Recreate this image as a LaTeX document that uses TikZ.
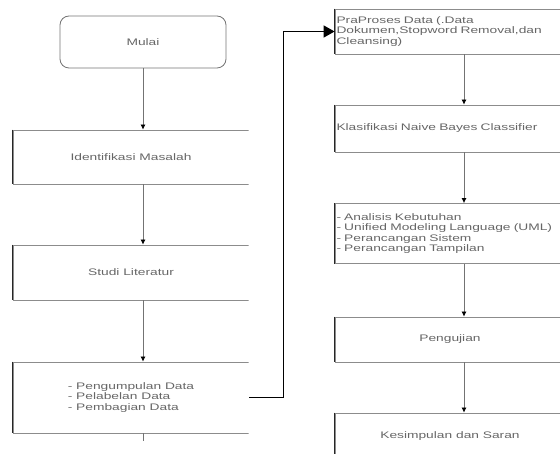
\documentclass[tikz,border=0pt]{standalone}
\usepackage{fontspec}
\setmainfont{Liberation Sans}[FakeStretch=1.45]
\usetikzlibrary{arrows.meta}
\tikzset{
  stepbox/.style={draw=black!45,line width=0.8pt,text=black!60,inner sep=1.5pt,
    font=\fontsize{9.5}{10.5}\selectfont},
  flow/.style={draw=black!55,line width=0.8pt,-{Latex[length=5pt,width=5pt,black]}},
  link/.style={draw=black,line width=1.5pt,-{Triangle[length=11pt,width=12pt]}}
}
\begin{document}
\begin{tikzpicture}[x=1pt,y=-1pt]
   \useasboundingbox (0,0) rectangle (560,454);
   \clip (0,0) rectangle (560,454);
   \node [stepbox,draw=black!55,rounded corners=9pt,minimum width=166pt,minimum height=52pt] (mulai) at (143,42) {Mulai};
   \begin{scope}
     \clip (0,0) rectangle (248.5,454);
     \node [stepbox,minimum width=236pt,minimum height=54pt] (idm) at (131,157) {Identifikasi Masalah};
     \node [stepbox,minimum width=236pt,minimum height=55pt] (stl) at (131,272.5) {Studi Literatur};
     \node [stepbox,minimum width=236pt,minimum height=71pt,align=left] (pd) at (131,397.5)
       {- Pengumpulan Data\\- Pelabelan Data\\- Pembagian Data};
   \end{scope}
   \node [stepbox,minimum width=230pt,minimum height=45pt,text width=227pt,align=left] (pp) at (450,31.5)
     {PraProses Data (.Data\\Dokumen,Stopword Removal,dan\\Cleansing)};
   \node [stepbox,minimum width=230pt,minimum height=47pt,text width=227pt,align=left] (nbc) at (450,128.5)
     {Klasifikasi Naive Bayes Classifier};
   \node [stepbox,minimum width=230pt,minimum height=60pt,text width=227pt,align=left] (ana) at (450,233.5)
     {- Analisis Kebutuhan\\- Unified Modeling Language (UML)\\- Perancangan Sistem\\- Perancangan Tampilan};
   \node [stepbox,minimum width=230pt,minimum height=45pt] (uji) at (450,339.5) {Pengujian};
   \node [stepbox,minimum width=230pt,minimum height=46pt] (kes) at (450,436) {Kesimpulan dan Saran};
   \foreach \n in {idm,stl,pd,pp,nbc,ana,uji,kes}
     \draw [black!85,line width=0.9pt] (\n.north west) -- (\n.south west);
   \coordinate (rx) at (464,0);
   \coordinate (pdend) at (143,441);
   \draw [flow] (mulai) -- (idm.north -| mulai);
   \draw [flow] (idm.south -| mulai) -- (stl.north -| mulai);
   \draw [flow] (stl.south -| mulai) -- (pd.north -| mulai);
   \draw [draw=black!55,line width=0.8pt] (pd.south -| mulai) -- (pdend);
   \draw [flow] (pp.south -| rx) -- (nbc.north -| rx);
   \draw [flow] (nbc.south -| rx) -- (ana.north -| rx);
   \draw [flow] (ana.south -| rx) -- (uji.north -| rx);
   \draw [flow] (uji.south -| rx) -- (kes.north -| rx);
   \draw [link] (pd.east) -- ++(34,0) |- (pp.west);
  \end{tikzpicture}
\end{document}
